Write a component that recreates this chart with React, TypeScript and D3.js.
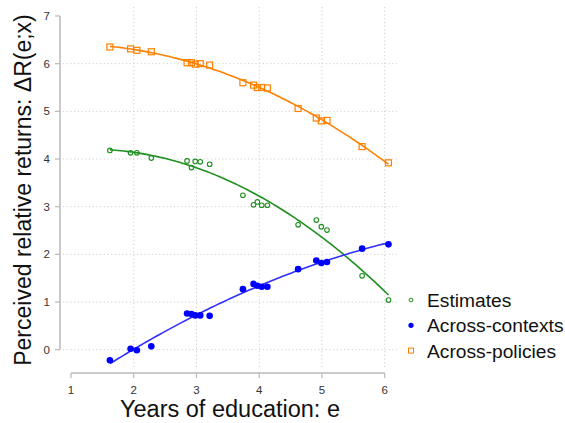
import React from "react";
import * as d3 from "d3";

// Years of education (shared by all three series)
const years = [1.62, 1.95, 2.05, 2.28, 2.85, 2.92, 2.98, 3.06, 3.21, 3.74, 3.91, 3.97, 4.04, 4.13, 4.62, 4.91, 4.99, 5.08, 5.64, 6.06];
const estimates = [4.18, 4.13, 4.13, 4.02, 3.96, 3.82, 3.95, 3.94, 3.89, 3.24, 3.04, 3.10, 3.03, 3.03, 2.62, 2.72, 2.58, 2.51, 1.55, 1.04];
const acrossContexts = [-0.22, 0.02, -0.01, 0.07, 0.76, 0.75, 0.72, 0.72, 0.71, 1.27, 1.38, 1.34, 1.32, 1.32, 1.69, 1.87, 1.82, 1.84, 2.12, 2.21];
const acrossPolicies = [6.35, 6.31, 6.28, 6.25, 6.02, 6.02, 5.99, 6.00, 5.97, 5.60, 5.55, 5.50, 5.50, 5.49, 5.06, 4.86, 4.80, 4.81, 4.26, 3.92];

const xTicks = [1, 2, 3, 4, 5, 6];
const yTicks = [0, 1, 2, 3, 4, 5, 6, 7];
const xGrid = [2, 3, 4, 5, 6];
const yGrid = [0, 1, 2, 3, 4, 5, 6];
const legendLabels = ["Estimates", "Across-contexts", "Across-policies"];

const GREEN = "#1f8f1f";
const BLUE = "#0000ff";
const ORANGE = "#ff8000";
const FONT = "'Liberation Sans', Arial, Helvetica, sans-serif";

// Least-squares quadratic fit y = a + b x + c x^2
function quadFit(xs: number[], ys: number[]) {
  const S = [0, 0, 0, 0, 0];
  const T = [0, 0, 0];
  xs.forEach((x, i) => {
    for (let k = 0; k < 5; k++) S[k] += Math.pow(x, k);
    for (let k = 0; k < 3; k++) T[k] += ys[i] * Math.pow(x, k);
  });
  const M = [
    [S[0], S[1], S[2], T[0]],
    [S[1], S[2], S[3], T[1]],
    [S[2], S[3], S[4], T[2]],
  ];
  for (let i = 0; i < 3; i++) {
    for (let j = i + 1; j < 3; j++) {
      const f = M[j][i] / M[i][i];
      for (let k = i; k < 4; k++) M[j][k] -= f * M[i][k];
    }
  }
  const c = [0, 0, 0];
  for (let i = 2; i >= 0; i--) {
    let s = M[i][3];
    for (let k = i + 1; k < 3; k++) s -= M[i][k] * c[k];
    c[i] = s / M[i][i];
  }
  return (x: number) => c[0] + c[1] * x + c[2] * x * x;
}

export default function App() {
  const x = d3.scaleLinear().domain([1, 6]).range([71, 384.7]);
  const y = d3.scaleLinear().domain([0, 7]).range([349.7, 16]);

  const xMin = d3.min(years) as number;
  const xMax = d3.max(years) as number;
  const samples = d3.range(0, 101).map((i) => xMin + ((xMax - xMin) * i) / 100);

  const fitPath = (vals: number[]) => {
    const f = quadFit(years, vals);
    return d3
      .line<number>()
      .x((d) => x(d))
      .y((d) => y(f(d)))(samples) as string;
  };

  const axisColor = "#b8b8b8";
  const gridColor = "#cfcfcf";

  return (
    <svg
      width={565}
      height={423}
      style={{ position: "absolute", left: 0, top: 0, background: "#fff" }}
      fontFamily={FONT}
    >
      {/* grid */}
      {xGrid.map((t) => (
        <line key={"gx" + t} x1={x(t)} x2={x(t)} y1={7} y2={367} stroke={gridColor} strokeWidth={1} strokeDasharray="1.2 2.5" />
      ))}
      {yGrid.map((t) => (
        <line key={"gy" + t} x1={63} x2={397} y1={y(t)} y2={y(t)} stroke={gridColor} strokeWidth={1} strokeDasharray="1.2 2.5" />
      ))}

      {/* y axis */}
      <line x1={60} x2={60} y1={y(7)} y2={y(0)} stroke={axisColor} strokeWidth={1.5} />
      {yTicks.map((t) => (
        <g key={"yt" + t}>
          <line x1={55} x2={60} y1={y(t)} y2={y(t)} stroke={axisColor} strokeWidth={1.2} />
          <text x={50} y={y(t)} dy="0.36em" textAnchor="end" fontSize={11.5} fill="#333">
            {t}
          </text>
        </g>
      ))}

      {/* x axis */}
      <line x1={x(1)} x2={x(6)} y1={373} y2={373} stroke={axisColor} strokeWidth={1.5} />
      {xTicks.map((t) => (
        <g key={"xt" + t}>
          <line x1={x(t)} x2={x(t)} y1={373} y2={378} stroke={axisColor} strokeWidth={1.2} />
          <text x={x(t)} y={394} textAnchor="middle" fontSize={11.5} fill="#333">
            {t}
          </text>
        </g>
      ))}

      {/* axis titles */}
      <text x={230} y={417} textAnchor="middle" fontSize={23.5} fill="#111">
        Years of education: e
      </text>
      <text
        transform={`translate(31,190) rotate(-90)`}
        textAnchor="middle"
        fontSize={23}
        fill="#111"
      >
        Perceived relative returns: ΔR(e;x)
      </text>

      {/* fitted curves */}
      <path d={fitPath(acrossPolicies)} fill="none" stroke={ORANGE} strokeWidth={1.6} />
      <path d={fitPath(estimates)} fill="none" stroke={GREEN} strokeWidth={1.6} />
      <path d={fitPath(acrossContexts)} fill="none" stroke="#3030ff" strokeWidth={1.6} />

      {/* points */}
      {years.map((e, i) => (
        <rect
          key={"p" + i}
          x={x(e) - 3}
          y={y(acrossPolicies[i]) - 3}
          width={6}
          height={6}
          fill="none"
          stroke={ORANGE}
          strokeWidth={1.2}
        />
      ))}
      {years.map((e, i) => (
        <circle key={"e" + i} cx={x(e)} cy={y(estimates[i])} r={2.3} fill="none" stroke={GREEN} strokeWidth={1.1} />
      ))}
      {years.map((e, i) => (
        <circle key={"c" + i} cx={x(e)} cy={y(acrossContexts[i])} r={3.3} fill={BLUE} />
      ))}

      {/* legend */}
      {legendLabels.map((label, i) => {
        const cy = 300 + i * 25.3;
        return (
          <g key={"lg" + i}>
            {i === 0 && <circle cx={411} cy={cy} r={1.9} fill="none" stroke={GREEN} strokeWidth={1} />}
            {i === 1 && <circle cx={411} cy={cy} r={2.6} fill={BLUE} />}
            {i === 2 && (
              <rect x={408.5} y={cy - 2.5} width={5} height={5} fill="none" stroke={ORANGE} strokeWidth={1} />
            )}
            <text x={427} y={cy} dy="0.36em" fontSize={19.2} fill="#111">
              {label}
            </text>
          </g>
        );
      })}
    </svg>
  );
}
